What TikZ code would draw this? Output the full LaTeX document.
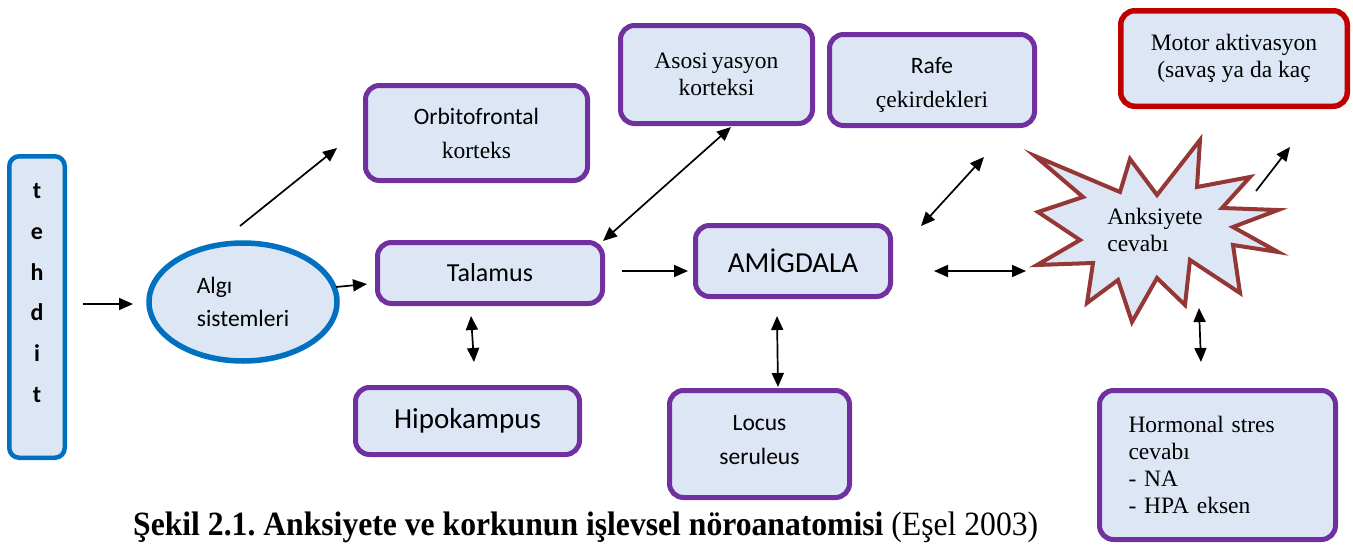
\documentclass[tikz,border=0pt]{standalone}
\usepackage{graphicx}
\usepackage{fontspec}
\setmainfont{Liberation Serif}
\newfontfamily\calib{Carlito}
\usetikzlibrary{arrows.meta,shapes.geometric}
\definecolor{purp}{HTML}{7030A0}
\definecolor{blu}{HTML}{0070C0}
\definecolor{redb}{HTML}{C00000}
\definecolor{starc}{HTML}{953735}
\definecolor{fillc}{HTML}{DCE6F4}
\tikzset{
  box/.style={draw=purp, line width=5pt, fill=fillc, rounded corners=14pt, align=center, inner sep=0pt},
  txt/.style={font=\fontsize{23.5}{27}\selectfont},
  mixtxt/.style={font=\fontsize{23.5}{34}\selectfont},
  arr/.style={line width=1.7pt, -{Triangle[length=14pt,width=12pt]}},
  darr/.style={line width=1.7pt, {Triangle[length=14pt,width=12pt]}-{Triangle[length=14pt,width=12pt]}},
}
\begin{document}
\frenchspacing
\begin{tikzpicture}[x=1pt,y=-1pt]
\useasboundingbox (0,0) rectangle (1353,547);

% tehdit
\node[draw=blu, line width=4.5pt, fill=fillc, rounded corners=10pt, minimum width=55.5pt, minimum height=301.5pt, inner sep=0pt] (tehditbox) at (37,307) {};
\node[align=center, inner sep=0pt, font=\calib\bfseries\fontsize{24}{40.8}\selectfont] (tehdit) at (37,293) {t\\e\\h\\d\\i\\t};

% Algi
\node[ellipse, draw=blu, line width=5.5pt, fill=fillc, minimum width=188pt, minimum height=118pt, inner sep=0pt, align=left, font=\calib\fontsize{23.5}{33}\selectfont] (algi) at (243,302) {Algı\\sistemleri};

% boxes
\node[box, mixtxt, minimum width=222pt, minimum height=95pt] (orbi) at (476.5,133) {{\calib Orbitofrontal}\\korteks};
\node[box, minimum width=225pt, minimum height=61pt, font=\calib\fontsize{26}{30}\selectfont] (talamus) at (490,273) {Talamus};
\node[box, minimum width=224pt, minimum height=67pt, font=\calib\fontsize{29}{33}\selectfont] (hipo) at (467.5,421) {Hipokampus};
\node[box, txt, minimum width=192pt, minimum height=98pt] (asos) at (716.5,74.5) {Asosi\,yasyon\\korteksi};
\node[box, minimum width=205pt, minimum height=91pt] (rafe) at (932,80) {};
\node[mixtxt, align=center, inner sep=0pt] (rafetext) at (932,85) {{\calib Rafe}\\çekirdekleri};
\node[box, minimum width=195pt, minimum height=71pt, font=\calib\fontsize{29}{33}\selectfont] (amig) at (793,261) {AMİGDALA};
\node[box, minimum width=180pt, minimum height=107pt] (locus) at (759.5,444) {};
\node[align=center, inner sep=0pt, font=\calib\fontsize{23.5}{34}\selectfont] (locustext) at (759.5,440) {Locus\\seruleus};
\node[box, txt, draw=redb, line width=5.5pt, minimum width=226.5pt, minimum height=95.5pt] (motor) at (1234,58.5) {Motor aktivasyon\\(savaş ya da kaç};
\node[box, txt, minimum width=236pt, minimum height=149pt, text width=178pt, align=left] (hormon) at (1217.5,465) {Hormonal stres\\cevabı\\- NA\\- HPA eksen};

% star
\draw[draw=starc, line width=4pt, fill=fillc, line join=miter, miter limit=10]
  (1035,156) -- (1120,192) -- (1130,159) -- (1157,195) -- (1200,140) -- (1197,187)
  -- (1250,177) -- (1222,208) -- (1278,210) -- (1233,227) -- (1278,252) -- (1233,245)
  -- (1240,293) -- (1190,260) -- (1185,305) -- (1157,278) -- (1132,322) -- (1118,280)
  -- (1087,303) -- (1093,263) -- (1037,265) -- (1080,240) -- (1038,212) -- (1083,197) -- cycle;
\node[txt, align=left, inner sep=0pt] (star) at (1155,230) {Anksiyete\\cevabı};

% caption
\node[anchor=base west, inner sep=0pt] (caption) at (133,535) {\resizebox{905pt}{\height}{\fontsize{34}{40}\selectfont\textbf{Şekil 2.1. Anksiyete ve korkunun işlevsel nöroanatomisi} (Eşel 2003)}};

% connector end points
\coordinate (a1s) at (83,304);   \coordinate (a1e) at (133,304);
\coordinate (a2s) at (240,226);  \coordinate (a2e) at (337,148);
\coordinate (a3s) at (336,287);  \coordinate (a3e) at (367,284);
\coordinate (a4s) at (603,241);  \coordinate (a4e) at (731,127);
\coordinate (a5s) at (471,316);  \coordinate (a5e) at (474,362);
\coordinate (a6s) at (622,271);  \coordinate (a6e) at (688,271);
\coordinate (a7s) at (777,316);  \coordinate (a7e) at (778,387);
\coordinate (a8s) at (934,271);  \coordinate (a8e) at (1026,271);
\coordinate (a9s) at (921,226);  \coordinate (a9e) at (984,157);
\coordinate (a10s) at (1256,191); \coordinate (a10e) at (1290,147);
\coordinate (a11s) at (1199,308); \coordinate (a11e) at (1201,362);

\draw[arr] (a1s) -- (a1e);
\draw[arr] (a2s) -- (a2e);
\draw[arr] (a3s) -- (a3e);
\draw[darr] (a4s) -- (a4e);
\draw[darr] (a5s) -- (a5e);
\draw[arr] (a6s) -- (a6e);
\draw[darr] (a7s) -- (a7e);
\draw[darr] (a8s) -- (a8e);
\draw[darr] (a9s) -- (a9e);
\draw[arr] (a10s) -- (a10e);
\draw[darr] (a11s) -- (a11e);
\end{tikzpicture}
\end{document}
